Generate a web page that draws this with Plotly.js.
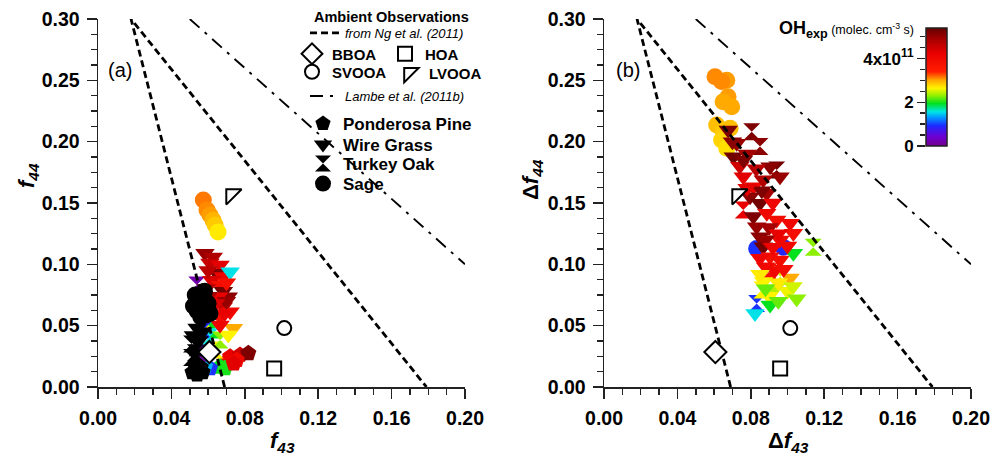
<!DOCTYPE html>
<html><head><meta charset="utf-8">
<script src="https://cdn.plot.ly/plotly-3.0.1.min.js"></script>
<style>body{margin:0;background:#fff}</style>
</head><body><div id="chart" style="width:991px;height:456px"></div>
<script>
// ---------- DATA ----------
// Panel (a): f44 vs f43, colour = OH exposure (x1e11 molec cm-3 s)
const ppA_f43 = [0.0720,0.0774,0.0819,0.0756,0.0701,0.0665,0.0692,0.0610,0.0583,0.0740];
const ppA_f44 = [0.0247,0.0261,0.0275,0.0220,0.0206,0.0165,0.0152,0.0152,0.0165,0.0190];
const ppA_oh  = [4.2,4.5,5.2,4.0,4.1,1.95,2.0,0.95,1.4,4.3];

const wgA_f43 = [0.0583,0.0628,0.0610,0.0665,0.0647,0.0683,0.0620,0.0665,0.0683,0.0710,0.0656,0.0683,0.0720,0.0665,0.0720,0.0738,0.0710,0.0665,0.0590,0.0700,0.0600,0.0700,0.0690,0.0640,0.0600];
const wgA_f44 = [0.109,0.106,0.101,0.0995,0.0927,0.090,0.087,0.083,0.078,0.0736,0.0736,0.0655,0.0614,0.0573,0.094,0.0478,0.0424,0.0505,0.080,0.085,0.095,0.070,0.060,0.068,0.074];
const wgA_oh  = [5.0,4.8,4.6,4.3,5.2,4.1,4.4,3.9,5.3,5.1,4.2,4.6,4.0,3.9,1.55,3.0,2.65,4.1,4.8,3.8,4.7,5.0,4.2,4.4,4.9];

const toA_f43 = [0.0574,0.0628,0.0574,0.0610,0.0547,0.0638,0.0665,0.0538];
const toA_f44 = [0.0546,0.0465,0.0465,0.0410,0.0275,0.0302,0.0383,0.0832];
const toA_oh  = [2.65,1.95,0.95,1.55,0.2,2.65,2.3,0.2];

const sgA_f43 = [0.0574,0.0594,0.0610,0.0627,0.0638,0.0654];
const sgA_f44 = [0.1524,0.1443,0.1402,0.1360,0.1320,0.1264];
const sgA_oh  = [3.15,3.1,3.05,2.95,2.85,2.7];

// Panel (a): primary (unoxidised) points, drawn black
const ppA0_f43 = [0.0515,0.0540,0.0570,0.0530,0.0560];
const ppA0_f44 = [0.012,0.010,0.012,0.017,0.016];
const wgA0_f43 = [0.0520,0.0550,0.0540,0.0570];
const wgA0_f44 = [0.042,0.038,0.048,0.045];
const toA0_f43 = [0.0510,0.0530,0.0510,0.0540];
const toA0_f44 = [0.035,0.028,0.024,0.032];
const sgA0_f43 = [0.053,0.056,0.054,0.058,0.061,0.056,0.052,0.058,0.060];
const sgA0_f44 = [0.075,0.070,0.062,0.063,0.060,0.057,0.066,0.078,0.068];

// Panel (b): delta f44 vs delta f43
const sgB_f43 = [0.0605,0.0669,0.0641,0.0676,0.0649,0.0696,0.0614,0.0649,0.0641,0.0669,0.0687,0.0832,0.0977];
const sgB_f44 = [0.253,0.250,0.249,0.2367,0.2326,0.2285,0.2136,0.2081,0.2014,0.1946,0.2109,0.113,0.114];
const sgB_oh  = [3.1,3.05,3.1,3.05,3.0,3.0,2.9,2.85,2.8,2.75,2.9,0.95,0.9];

const wgB_f43 = [0.0677,0.0723,0.0705,0.0905,0.0959,0.0759,0.0814,0.0868,0.0796,0.0850,0.0887,0.0814,0.0832,0.0887,0.0941,0.1014,0.1032,0.0850,0.0868,0.0959,0.0905,0.0959,0.0880,0.1032,0.1014,0.0870,0.0930,0.1000,0.0900,0.1050,0.0905,0.0823,0.0950,0.0780,0.0740,
                 0.0700,0.0760,0.0830,0.0860,0.0780,0.0920,0.0900,0.0950,0.0880,0.0920,0.1000,0.0850,0.0930,0.0980,0.0850,0.0950,0.1030,0.0880];
const wgB_f44 = [0.2095,0.1987,0.1877,0.1796,0.1715,0.1715,0.1633,0.1690,0.1550,0.1498,0.1580,0.1389,0.1307,0.1416,0.1361,0.1334,0.1253,0.1225,0.1144,0.1198,0.1062,0.1035,0.0980,0.1090,0.0889,0.0860,0.0800,0.0780,0.0740,0.0720,0.0668,0.0600,0.0700,0.1900,0.1800,
                 0.2000,0.1850,0.1780,0.1600,0.1620,0.1500,0.1300,0.1250,0.1200,0.1140,0.1150,0.1050,0.0950,0.0960,0.0920,0.0850,0.0820,0.0800];
const wgB_oh  = [5.2,5.0,5.3,5.1,5.0,4.3,4.1,4.8,5.1,5.3,4.9,5.2,5.0,4.0,3.9,4.0,3.8,5.1,5.3,4.0,3.8,3.9,4.0,1.95,3.0,2.65,2.4,2.6,2.65,2.3,1.95,1.55,2.2,4.9,4.5,
                 5.1,5.2,4.7,5.2,4.3,4.1,4.9,4.2,5.0,4.1,4.0,4.1,4.0,3.9,2.7,2.7,2.5,2.2];

const toB_f43 = [0.0805,0.0850,0.0941,0.0759,0.1140,0.0832,0.0900,0.0960,0.0860];
const toB_f44 = [0.208,0.196,0.177,0.1443,0.114,0.068,0.094,0.090,0.079];
const toB_oh  = [5.2,5.1,5.3,4.2,2.3,0.95,3.8,2.5,2.65];

// Ambient observations (Ng et al. 2011 factors)
const bboa_f43 = [0.0607],  bboa_f44 = [0.0285];
const hoa_f43  = [0.0960],  hoa_f44  = [0.0150];
const svooa_f43= [0.1015],  svooa_f44= [0.0480];
const lvooa_f43= [0.0727],  lvooa_f44= [0.1570];

// Reference lines
const ng_f43 = [0.069, 0.018, 0.179];
const ng_f44 = [0.000, 0.300, 0.000];
const lambe_f43 = [0.050, 0.200];
const lambe_f44 = [0.300, 0.100];

// Colour bar
const ohMin = 0, ohMax = 5.4;
const cbTickVals = [0, 2, 4];
const cbTickText = ['0', '2', '4x10<sup>11</sup>'];
const xTickLabels = ['0.00','0.04','0.08','0.12','0.16','0.20'];

// ---------- STYLE ----------
const FONT = 'Arial, "Liberation Sans", sans-serif';
const ohScale = [
  [0,'rgb(115,0,140)'],[0.08,'rgb(110,0,210)'],[0.17,'rgb(30,40,255)'],
  [0.24,'rgb(0,150,255)'],[0.29,'rgb(0,230,230)'],[0.36,'rgb(0,225,30)'],
  [0.43,'rgb(150,240,0)'],[0.49,'rgb(255,245,0)'],[0.56,'rgb(255,165,0)'],
  [0.63,'rgb(255,30,0)'],[0.78,'rgb(235,0,0)'],[0.9,'rgb(170,0,0)'],[1,'rgb(100,0,0)']
];
const L = 98, R = 20, T = 19, B = 69, W = 991, H = 456;
const PW = W - L - R, PH = H - T - B;
const px2x = p => (p - L) / PW;
const px2y = p => (H - B - p) / PH;
const MS = 17;

const cbar = {
  x:px2x(926), xanchor:'left', y:px2y(28), yanchor:'top',
  len:118, lenmode:'pixels', thickness:21, thicknessmode:'pixels',
  xpad:0, ypad:0, outlinewidth:1.5, outlinecolor:'#222',
  showticklabels:false, ticks:'', borderwidth:0
};

function colored(x, y, c, sym, ax, withBar) {
  const m = {symbol:sym, size:MS, color:c, colorscale:ohScale, cmin:ohMin, cmax:ohMax,
             showscale:!!withBar, line:{width:0}};
  if (withBar) m.colorbar = cbar;
  return {type:'scatter', mode:'markers', x:x, y:y, xaxis:ax[0], yaxis:ax[1],
    showlegend:false, hoverinfo:'skip', cliponaxis:false, marker:m};
}
function black(x, y, sym, name, leg) {
  return {type:'scatter', mode:'markers', x:x, y:y, xaxis:'x', yaxis:'y', name:name,
          legend:leg, showlegend:true, hoverinfo:'skip', cliponaxis:false,
          marker:{symbol:sym, size:MS, color:'#000', line:{width:0}}};
}
function amb(x, y, sym, size, name, leg, ax, show) {
  return {type:'scatter', mode:'markers', x:x, y:y, xaxis:ax[0], yaxis:ax[1], name:name,
          legend:leg, showlegend:show, hoverinfo:'skip', cliponaxis:false,
          marker:{symbol:sym, size:size, color:'#fff', line:{width:2, color:'#000'}}};
}
function line(x, y, dash, width, name, leg, ax, show) {
  return {type:'scatter', mode:'lines', x:x, y:y, xaxis:ax[0], yaxis:ax[1], name:name,
          legend:leg, showlegend:show, hoverinfo:'skip', cliponaxis:false,
          line:{color:'#000', width:width, dash:dash}};
}
const A = ['x','y'], Bx = ['x2','y2'];
const NGDASH = '7px,4px', LDASH = '13px,7px,3px,7px';

const data = [
  colored(ppA_f43, ppA_f44, ppA_oh, 'pentagon', A),
  colored(toA_f43, toA_f44, toA_oh, 'hourglass', A),
  colored(wgA_f43, wgA_f44, wgA_oh, 'triangle-down', A),
  colored(sgA_f43, sgA_f44, sgA_oh, 'circle', A),
  black(ppA0_f43, ppA0_f44, 'pentagon', '<b>Ponderosa Pine</b>', 'legend'),
  black(wgA0_f43, wgA0_f44, 'triangle-down', '<b>Wire Grass</b>', 'legend2'),
  black(toA0_f43, toA0_f44, 'hourglass', '<b>Turkey Oak</b>', 'legend3'),
  black(sgA0_f43, sgA0_f44, 'circle', '<b>Sage</b>', 'legend4'),

  colored(sgB_f43, sgB_f44, sgB_oh, 'circle', Bx),
  colored(toB_f43, toB_f44, toB_oh, 'hourglass', Bx),
  colored(wgB_f43, wgB_f44, wgB_oh, 'triangle-down', Bx, true),

  line(ng_f43, ng_f44, NGDASH, 2.8, '<i>from Ng et al. (2011)</i>', 'legend5', A, true),
  line(ng_f43, ng_f44, NGDASH, 2.8, 'ng', 'legend5', Bx, false),
  line(lambe_f43, lambe_f44, LDASH, 1.9, '<i>Lambe et al. (2011b)</i>', 'legend10', A, true),
  line(lambe_f43, lambe_f44, LDASH, 1.9, 'lambe', 'legend10', Bx, false),

  amb(bboa_f43, bboa_f44, 'diamond', 17, '<b>BBOA</b>', 'legend6', A, true),
  amb(hoa_f43, hoa_f44, 'square', 14, '<b>HOA</b>', 'legend7', A, true),
  amb(svooa_f43, svooa_f44, 'circle', 14, '<b>SVOOA</b>', 'legend8', A, true),
  amb(lvooa_f43, lvooa_f44, 'triangle-nw', 17, '<b>LVOOA</b>', 'legend9', A, true),
  amb(bboa_f43, bboa_f44, 'diamond', 17, 'b', 'legend6', Bx, false),
  amb(hoa_f43, hoa_f44, 'square', 14, 'h', 'legend7', Bx, false),
  amb(svooa_f43, svooa_f44, 'circle', 14, 's', 'legend8', Bx, false),
  amb(lvooa_f43, lvooa_f44, 'triangle-nw', 17, 'l', 'legend9', Bx, false),

  // carrier for the colour-bar tick axis
  {type:'scatter', mode:'markers', x:[], y:[], xaxis:'x3', yaxis:'y3', showlegend:false, hoverinfo:'skip'}
];

const tickFont = {family:FONT, size:19.5, color:'#000', weight:'bold'};
function xax(dom, anchor) {
  return {domain:dom, anchor:anchor, range:[0,0.2], tickmode:'array',
    tickvals:[0,0.04,0.08,0.12,0.16,0.2], ticktext:xTickLabels,
    ticks:'outside', ticklen:10, tickwidth:1.5, tickcolor:'#222', ticklabelstandoff:3,
    showline:true, linewidth:1.5, linecolor:'#222', showgrid:false, zeroline:false,
    tickfont:tickFont, fixedrange:true,
    minor:{dtick:0.01, tick0:0, ticks:'outside', ticklen:6, tickwidth:1.5, tickcolor:'#222', showgrid:false}};
}
function yax(anchor) {
  return {domain:[0,1], anchor:anchor, range:[0,0.3], dtick:0.05, tick0:0, tickformat:'.2f',
    ticks:'outside', ticklen:10, tickwidth:1.5, tickcolor:'#222', ticklabelstandoff:3,
    showline:true, linewidth:1.5, linecolor:'#222', showgrid:false, zeroline:false,
    tickfont:tickFont, fixedrange:true,
    minor:{dtick:0.0125, tick0:0, ticks:'outside', ticklen:6, tickwidth:1.5, tickcolor:'#222', showgrid:false}};
}
function leg(gx, gy, size, weight, style) {
  return {x:px2x(gx - 20), y:px2y(gy), xanchor:'left', yanchor:'middle',
          bgcolor:'rgba(0,0,0,0)', borderwidth:0, itemwidth:30, itemclick:false, itemdoubleclick:false,
          font:{family:FONT, size:size, color:'#000', weight:weight, style:style}};
}

const ann = (text, x, y, size, opts) => Object.assign({
  text:text, xref:'paper', yref:'paper', x:x, y:y, showarrow:false,
  xanchor:'center', yanchor:'middle', font:{family:FONT, size:size, color:'#000'}
}, opts || {});
const titleFont = {family:FONT, size:22, color:'#000', weight:'bold', style:'italic'};

const layout = {
  width:W, height:H, margin:{l:L, r:R, t:T, b:B, pad:0},
  paper_bgcolor:'#fff', plot_bgcolor:'rgba(0,0,0,0)',
  font:{family:FONT, color:'#000'},
  xaxis:xax([0, px2x(465)], 'y'), yaxis:yax('x'),
  xaxis2:xax([px2x(604), 1], 'y2'), yaxis2:yax('x2'),
  xaxis3:{domain:[px2x(926), px2x(947)], anchor:'y3', range:[0,1], visible:false, fixedrange:true},
  yaxis3:{domain:[px2y(146), px2y(28)], anchor:'x3', range:[ohMin, ohMax], tickmode:'array',
          tickvals:cbTickVals, ticktext:cbTickText, ticks:'outside', ticklen:8, tickwidth:1.5, tickcolor:'#222',
          showline:false, showgrid:false, zeroline:false, fixedrange:true,
          tickfont:{family:FONT, size:17, color:'#000', weight:'bold'},
          minor:{dtick:0.5, tick0:0, ticks:'outside', ticklen:5, tickwidth:1.5, tickcolor:'#222', showgrid:false}},
  legend:  leg(323, 124, 17, 'bold', 'normal'),
  legend2: leg(323, 145, 17, 'bold', 'normal'),
  legend3: leg(323, 164, 17, 'bold', 'normal'),
  legend4: leg(323, 184, 17, 'bold', 'normal'),
  legend5: leg(325, 33, 13, 'normal', 'italic'),
  legend6: leg(312, 54, 15, 'bold', 'normal'),
  legend7: leg(405, 54, 15, 'bold', 'normal'),
  legend8: leg(312, 72, 15, 'bold', 'normal'),
  legend9: leg(409, 73, 15, 'bold', 'normal'),
  legend10: leg(325, 96, 13, 'normal', 'italic'),
  annotations:[
    ann('<b>Ambient Observations</b>', px2x(312), px2y(17), 14.5, {xanchor:'left'}),
    ann('(a)', px2x(120), px2y(70), 20),
    ann('(b)', px2x(628), px2y(70), 20),
    ann('f<sub>44</sub>', px2x(28), px2y(176), 22, {textangle:-90, font:titleFont}),
    ann('<span style="font-style:normal">Δ</span>f<sub>44</sub>', px2x(532), px2y(180), 22, {textangle:-90, font:titleFont}),
    ann('f<sub>43</sub>', px2x(282), px2y(442), 22, {font:titleFont}),
    ann('<span style="font-style:normal">Δ</span>f<sub>43</sub>', px2x(788), px2y(442), 22, {font:titleFont}),
    ann('<span style="font-size:18px"><b>OH<sub>exp</sub></b></span> (molec. cm<sup>-3</sup> s)',
        px2x(916), px2y(30), 12.5, {xanchor:'right'})
  ]
};

Plotly.newPlot('chart', data, layout, {staticPlot:true, displayModeBar:false});
</script></body></html>
